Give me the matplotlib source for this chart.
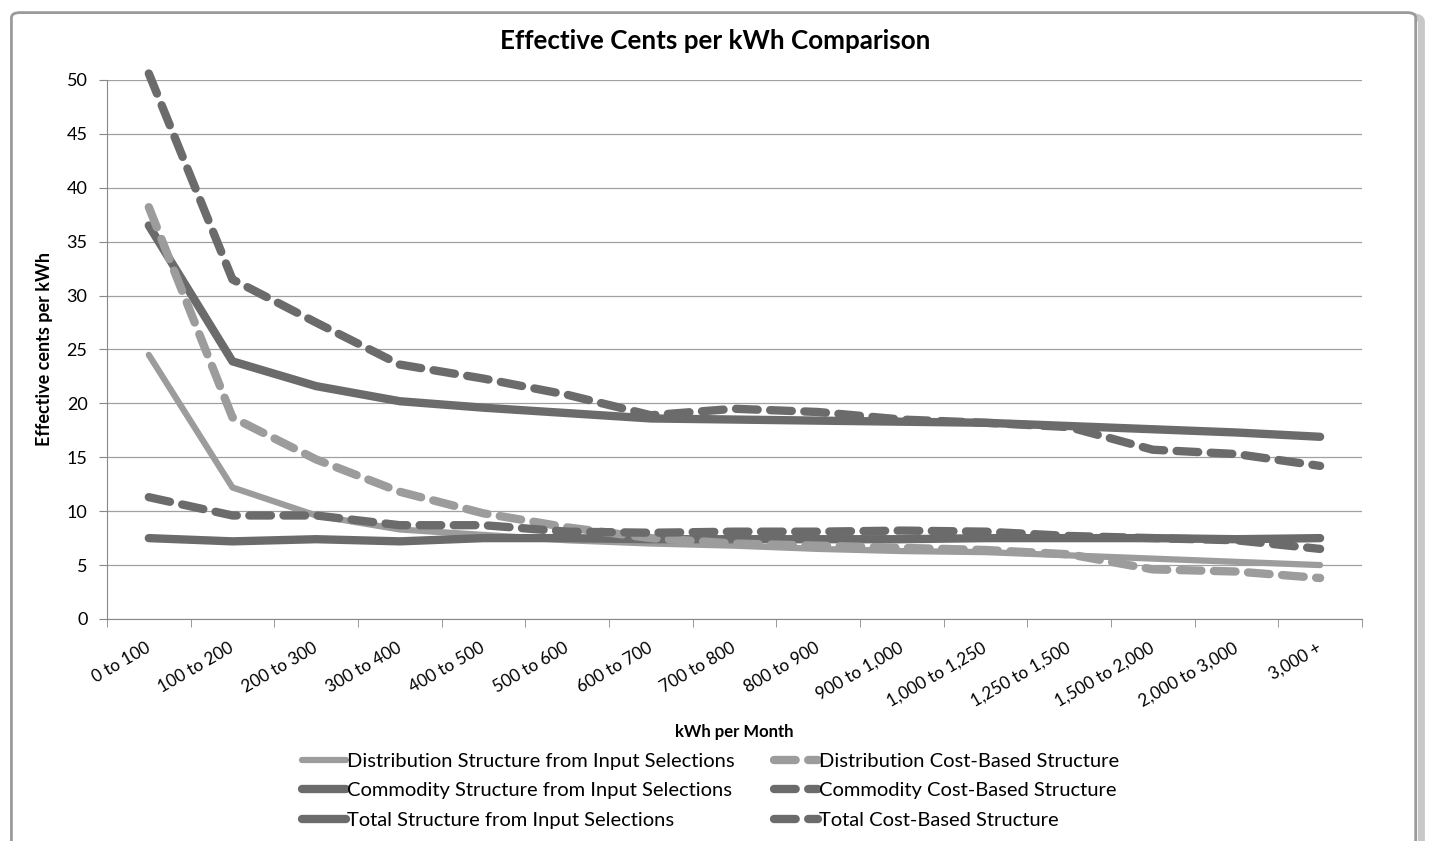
import numpy as np
import matplotlib.pyplot as plt
from matplotlib.patches import FancyBboxPatch

plt.rcParams['font.family'] = ['Lato', 'DejaVu Sans']

bands = ["0 to 100", "100 to 200", "200 to 300", "300 to 400", "400 to 500",
         "500 to 600", "600 to 700", "700 to 800", "800 to 900", "900 to 1,000",
         "1,000 to 1,250", "1,250 to 1,500", "1,500 to 2,000", "2,000 to 3,000",
         "3,000 +"]

dist_input = [24.5, 12.2, 9.6, 8.3, 7.8, 7.3, 7.0, 6.8, 6.5, 6.3, 6.2, 5.9, 5.6, 5.3, 5.0]
dist_cost = [38.2, 18.7, 14.8, 11.8, 9.8, 8.5, 7.5, 7.0, 6.8, 6.6, 6.4, 6.0, 4.6, 4.4, 3.8]
comm_input = [7.5, 7.2, 7.4, 7.2, 7.5, 7.5, 7.4, 7.4, 7.4, 7.4, 7.5, 7.5, 7.5, 7.4, 7.5]
comm_cost = [11.3, 9.6, 9.6, 8.7, 8.7, 8.1, 8.0, 8.1, 8.1, 8.2, 8.1, 7.7, 7.5, 7.3, 6.5]
total_input = [36.5, 23.9, 21.6, 20.2, 19.6, 19.1, 18.6, 18.5, 18.4, 18.3, 18.2, 17.9, 17.6, 17.3, 16.9]
total_cost = [50.6, 31.5, 27.5, 23.6, 22.3, 20.8, 18.9, 19.5, 19.2, 18.5, 18.2, 17.8, 15.7, 15.3, 14.2]

light = "#9c9c9c"
dark = "#6b6b6b"

fig = plt.figure(figsize=(14.3, 8.41), dpi=100)

# chart frame with soft shadow
fig.patches.append(FancyBboxPatch((0.012, -0.02), 0.982, 1.0, boxstyle="round,pad=0,rounding_size=0.006",
                                  transform=fig.transFigure, fc="none", ec="#c8c8c8", lw=5, zorder=-2))
fig.patches.append(FancyBboxPatch((0.008, -0.02), 0.982, 1.005, boxstyle="round,pad=0,rounding_size=0.006",
                                  transform=fig.transFigure, fc="white", ec="#9a9a9a", lw=2, zorder=-1))

ax = fig.add_axes([0.0748, 0.264, 0.8776, 0.6409])
ax.patch.set_alpha(0)
x = np.arange(len(bands))

dash = (0, (2.6, 1.5))
ax.plot(x, dist_input, color=light, lw=4.5, solid_capstyle="round",
        label="Distribution Structure from Input Selections")
ax.plot(x, comm_input, color=dark, lw=6, solid_capstyle="round",
        label="Commodity Structure from Input Selections")
ax.plot(x, total_input, color=dark, lw=6, solid_capstyle="round",
        label="Total Structure from Input Selections")
ax.plot(x, dist_cost, color=light, lw=6, ls=dash, dash_capstyle="round",
        label="Distribution Cost-Based Structure")
ax.plot(x, comm_cost, color=dark, lw=6, ls=dash, dash_capstyle="round",
        label="Commodity Cost-Based Structure")
ax.plot(x, total_cost, color=dark, lw=6, ls=dash, dash_capstyle="round",
        label="Total Cost-Based Structure", clip_on=False)

ax.set_xlim(-0.5, len(bands) - 0.5)
ax.set_ylim(0, 50)
ax.set_yticks(np.arange(0, 51, 5))
ax.set_xticks(x)
ax.set_xticklabels(bands, rotation=30, ha="right", va="center",
                   rotation_mode="anchor", fontsize=12.3)
ax.set_xticks(np.arange(-0.5, len(bands)), minor=True)
ax.tick_params(axis="x", which="major", length=0, pad=20)
ax.tick_params(axis="x", which="minor", length=6, color="#888888")
ax.tick_params(axis="y", length=6, color="#888888", labelsize=13, pad=8)
ax.grid(axis="y", color="#a0a0a0", lw=0.9)
ax.set_axisbelow(True)
for side in ("top", "right"):
    ax.spines[side].set_visible(False)
ax.spines["left"].set_color("#888888")
ax.spines["bottom"].set_color("#888888")

fig.suptitle("Effective Cents per kWh Comparison", x=0.5, y=0.966, fontsize=18.7, fontweight="bold")
ax.set_ylabel("Effective cents per kWh", fontsize=13, fontweight="bold", labelpad=10)
ax.set_xlabel("kWh per Month", fontsize=12, fontweight="bold", labelpad=10)

handles, labels = ax.get_legend_handles_labels()
fig.legend(handles, labels, loc="upper center", bbox_to_anchor=(0.497, 0.1265), ncol=2,
           frameon=False, fontsize=14.5, handlelength=2.2, handletextpad=0.05,
           columnspacing=1.95, labelspacing=0.62)

fig.savefig("out.png", dpi=100)
